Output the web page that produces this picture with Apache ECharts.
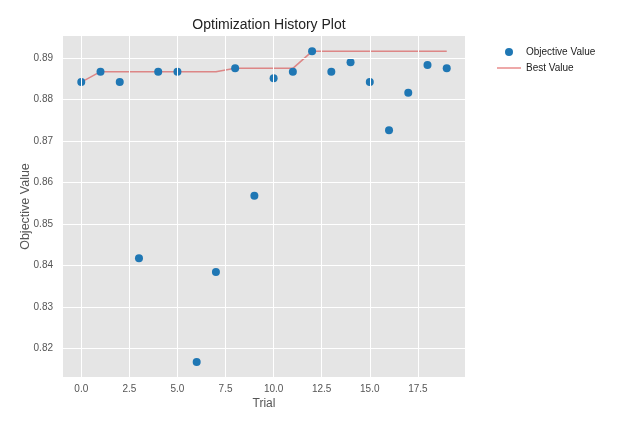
<!DOCTYPE html>
<html>
<head>
<meta charset="utf-8">
<script src="https://cdn.jsdelivr.net/npm/echarts@6/dist/echarts.min.js"></script>
<style>
  html, body { margin: 0; padding: 0; background: #fff; }
  #chart { width: 624px; height: 423px; }
</style>
</head>
<body>
<div id="chart"></div>
<script>
// trial numbers and objective values
var trials = [0, 1, 2, 3, 4, 5, 6, 7, 8, 9, 10, 11, 12, 13, 14, 15, 16, 17, 18, 19];
var objectiveValues = [0.8842, 0.8867, 0.8842, 0.8417, 0.8867, 0.8867, 0.8167, 0.8384, 0.8875, 0.8568,
                       0.8851, 0.8867, 0.8916, 0.8867, 0.8890, 0.8842, 0.8726, 0.8816, 0.8883, 0.8875];
var bestValues = [0.8842, 0.8867, 0.8867, 0.8867, 0.8867, 0.8867, 0.8867, 0.8867, 0.8875, 0.8875,
                  0.8875, 0.8875, 0.8916, 0.8916, 0.8916, 0.8916, 0.8916, 0.8916, 0.8916, 0.8916];
var xTicks = [0, 2.5, 5, 7.5, 10, 12.5, 15, 17.5];
var yTicks = [0.82, 0.83, 0.84, 0.85, 0.86, 0.87, 0.88, 0.89];

var font = 'Liberation Sans, Arial, sans-serif';
var chart = echarts.init(document.getElementById('chart'));

var gridLines = xTicks.map(function (v) { return { xAxis: v }; })
  .concat(yTicks.map(function (v) { return { yAxis: v }; }));

chart.setOption({
  animation: false,
  title: {
    text: 'Optimization History Plot',
    left: 264, top: 13, textAlign: 'center',
    textStyle: { fontFamily: font, fontSize: 14, fontWeight: 'normal', color: '#222' }
  },
  legend: {
    orient: 'vertical', left: 492, top: 42,
    itemWidth: 24, itemHeight: 8, itemGap: 6,
    textStyle: { fontFamily: font, fontSize: 10, color: '#222' },
    data: [
      { name: 'Objective Value', icon: 'circle' },
      { name: 'Best Value', icon: 'path://M0,0H24V1.6H0Z', itemStyle: { color: '#d62728', opacity: 0.5 } }
    ]
  },
  grid: {
    left: 63, right: 159, top: 36, bottom: 46,
    show: true, backgroundColor: '#E5E5E5', borderWidth: 0
  },
  xAxis: {
    type: 'value', min: -0.95, max: 19.95,
    name: 'Trial', nameLocation: 'middle', nameGap: 21, nameMoveOverlap: false,
    nameTextStyle: { fontFamily: font, fontSize: 12, color: '#555' },
    axisLine: { show: false }, axisTick: { show: false }, splitLine: { show: false },
    axisLabel: {
      customValues: xTicks, margin: 7,
      fontFamily: font, fontSize: 10, color: '#555',
      formatter: function (v) { return v.toFixed(1); }
    }
  },
  yAxis: {
    type: 'value', min: 0.8131, max: 0.8953,
    name: 'Objective Value', nameLocation: 'middle', nameGap: 31, nameMoveOverlap: false,
    nameTextStyle: { fontFamily: font, fontSize: 12.5, color: '#555' },
    axisLine: { show: false }, axisTick: { show: false }, splitLine: { show: false },
    axisLabel: {
      customValues: yTicks, margin: 10,
      fontFamily: font, fontSize: 10, color: '#555',
      formatter: function (v) { return v.toFixed(2); }
    }
  },
  series: [
    {
      name: 'grid', type: 'line', data: [], z: 1, silent: true,
      markLine: {
        silent: true, symbol: 'none', animation: false,
        label: { show: false },
        lineStyle: { color: '#fff', width: 1, type: 'solid' },
        data: gridLines
      }
    },
    {
      name: 'Objective Value', type: 'scatter', z: 3,
      symbolSize: 8,
      itemStyle: { color: '#1f77b4', opacity: 1 },
      data: trials.map(function (t, i) { return [t, objectiveValues[i]]; })
    },
    {
      name: 'Best Value', type: 'line', z: 2,
      symbol: 'none',
      lineStyle: { color: '#d62728', width: 1.5, opacity: 0.5 },
      itemStyle: { color: '#d62728', opacity: 0.5 },
      data: trials.map(function (t, i) { return [t, bestValues[i]]; })
    }
  ]
});
</script>
</body>
</html>
